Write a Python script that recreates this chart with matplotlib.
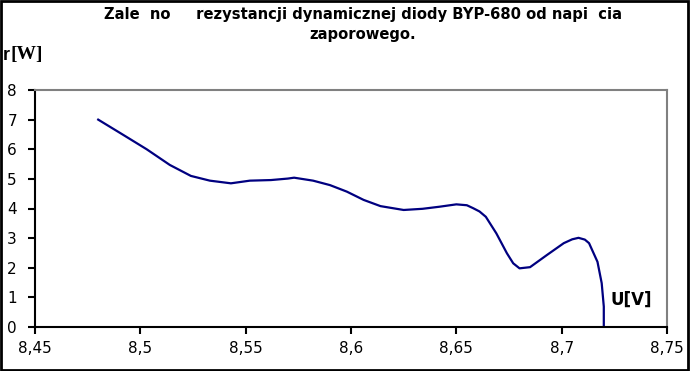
import matplotlib.pyplot as plt
from matplotlib.patches import Rectangle
from matplotlib.ticker import FuncFormatter

# napięcie zaporowe [V] i rezystancja dynamiczna [Ohm]
napiecie = [8.480, 8.492, 8.503, 8.514, 8.524, 8.533, 8.543, 8.552, 8.562, 8.570,
            8.573, 8.582, 8.590, 8.598, 8.606, 8.614, 8.625, 8.634, 8.642, 8.650,
            8.655, 8.658, 8.661, 8.664, 8.669, 8.674, 8.677, 8.680, 8.685, 8.693,
            8.701, 8.705, 8.708, 8.711, 8.713, 8.717, 8.719, 8.720, 8.720]
rezystancja = [7.00, 6.48, 6.00, 5.47, 5.10, 4.94, 4.85, 4.94, 4.96, 5.01,
               5.04, 4.94, 4.79, 4.57, 4.29, 4.08, 3.95, 3.99, 4.06, 4.14,
               4.11, 4.01, 3.90, 3.72, 3.16, 2.49, 2.15, 1.98, 2.02, 2.43,
               2.83, 2.96, 3.01, 2.95, 2.83, 2.20, 1.48, 0.69, 0.00]

x_ticks = [8.45, 8.5, 8.55, 8.6, 8.65, 8.7, 8.75]
y_ticks = [0, 1, 2, 3, 4, 5, 6, 7, 8]

plt.rcParams['font.family'] = ['DejaVu Sans']

fig = plt.figure(figsize=(6.9, 3.71), dpi=100)
ax = fig.add_axes([35 / 690, 44 / 371, 632 / 690, 237 / 371])

ax.plot(napiecie, rezystancja, color='#000080', linewidth=1.6,
        solid_joinstyle='round')

ax.set_xlim(8.45, 8.75)
ax.set_ylim(0, 8)
ax.set_xticks(x_ticks)
ax.set_yticks(y_ticks)
ax.xaxis.set_major_formatter(FuncFormatter(lambda v, p: ('%g' % round(v, 2)).replace('.', ',')))
ax.tick_params(labelsize=11, length=5, width=1.5, direction='out')
ax.tick_params(axis='x', pad=5)
ax.tick_params(axis='y', pad=8)

for s in ['left', 'bottom']:
    ax.spines[s].set_color('black')
    ax.spines[s].set_linewidth(1.5)
for s in ['top', 'right']:
    ax.spines[s].set_color('#808080')
    ax.spines[s].set_linewidth(1.5)

fig.text(363 / 690, 1 - 14 / 371, 'Zale  no     rezystancji dynamicznej diody BYP-680 od napi  cia',
         ha='center', va='center', fontsize=10.6, fontweight='bold')
fig.text(363 / 690, 1 - 34 / 371, 'zaporowego.', ha='center', va='center',
         fontsize=10.6, fontweight='bold')

fig.text(3 / 690, 1 - 55 / 371, 'r', ha='left', va='center', fontsize=13,
         fontweight='bold', family='Liberation Sans')
fig.text(11 / 690, 1 - 55 / 371, '[W]', ha='left', va='center', fontsize=14,
         fontweight='bold', family='Liberation Serif')
fig.text(611 / 690, 1 - 300 / 371, 'U[V]', ha='left', va='center', fontsize=12,
         fontweight='bold')

fig.patches.append(Rectangle((0.002, 0.003), 0.995, 0.993, transform=fig.transFigure,
                             fill=False, edgecolor='black', linewidth=2))

fig.savefig('out.png', dpi=100)
